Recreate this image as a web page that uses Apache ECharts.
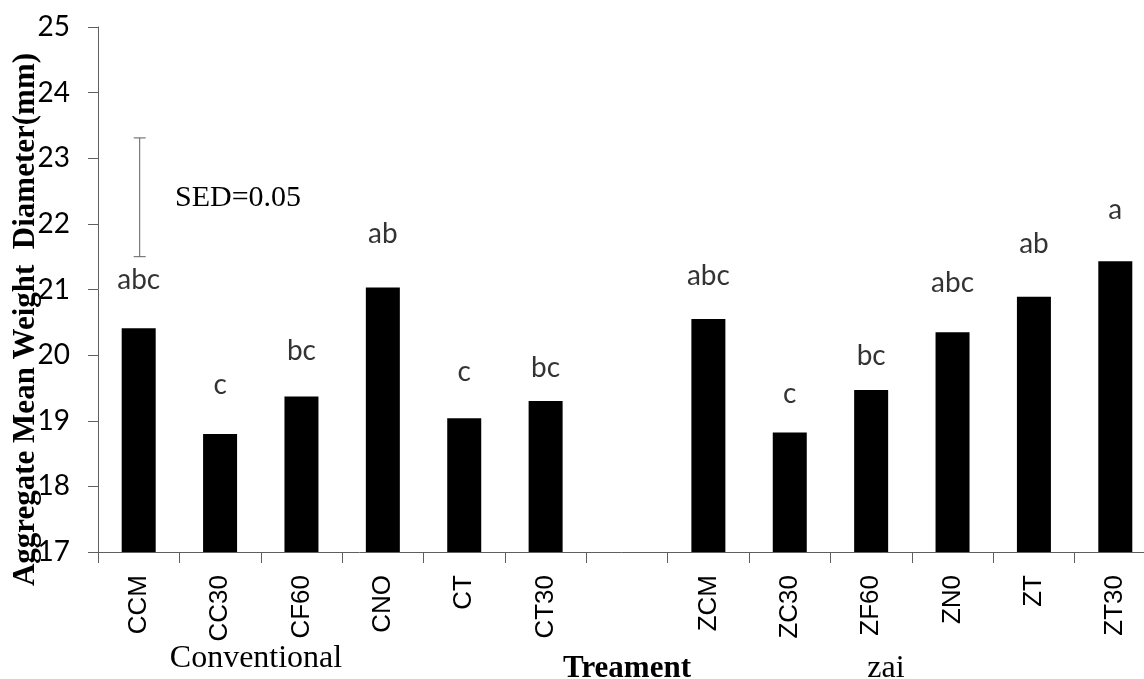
<!DOCTYPE html>
<html>
<head>
<meta charset="utf-8">
<script src="https://cdn.jsdelivr.net/npm/echarts@6/dist/echarts.min.js"></script>
<style>
html,body{margin:0;padding:0;background:#fff;}
#chart{width:1144px;height:679px;}
</style>
</head>
<body>
<div id="chart"></div>
<script>
// ---- data ----
const categories = ['CCM','CC30','CF60','CNO','CT','CT30','','ZCM','ZC30','ZF60','ZN0','ZT','ZT30'];
const mwdValues = [20.41, 18.80, 19.37, 21.03, 19.04, 19.30, null, 20.55, 18.82, 19.47, 20.35, 20.89, 21.43];
const letters = ['abc','c','bc','ab','c','bc','','abc','c','bc','abc','ab','a'];
const letterLevels = [21.14, 19.55, 20.06, 21.84, 19.75, 19.81, null, 21.20, 19.41, 19.99, 21.10, 21.69, 22.21];
const sedLow = 21.50;
const sedHigh = 23.31;
const yTicks = {min: 17, max: 25, step: 1};
const groupNames = ['Conventional', 'zai'];

// ---- chart ----
const chart = echarts.init(document.getElementById('chart'), null, {renderer: 'canvas'});
const axisColor = '#5f5f5f';

const letterData = [];
letterLevels.forEach((v, i) => { if (v !== null) letterData.push([i, v, letters[i]]); });

chart.setOption({
  animation: false,
  backgroundColor: '#ffffff',
  grid: {left: 98, top: 27, width: 1058, height: 525, containLabel: false, outerBoundsMode: 'none'},
  xAxis: {
    type: 'category',
    data: categories,
    boundaryGap: true,
    name: 'Treament',
    nameLocation: 'middle',
    nameGap: 101,
    nameMoveOverlap: false,
    nameTextStyle: {fontFamily: 'Liberation Serif', fontWeight: 'bold', fontSize: 31, color: '#000', verticalAlign: 'top'},
    axisLine: {lineStyle: {color: axisColor, width: 1}},
    axisTick: {show: true, length: 11, inside: false, alignWithLabel: false, lineStyle: {color: axisColor}},
    axisLabel: {interval: 0, rotate: 90, margin: 23, fontFamily: 'Liberation Sans', fontSize: 26, color: '#000'},
    splitLine: {show: false}
  },
  yAxis: {
    type: 'value',
    min: yTicks.min, max: yTicks.max, interval: yTicks.step,
    name: 'Aggregate Mean Weight  Diameter(mm)',
    nameLocation: 'middle',
    nameRotate: 90,
    nameGap: 57,
    nameMoveOverlap: false,
    nameTextStyle: {fontFamily: 'Liberation Serif', fontWeight: 'bold', fontSize: 31, color: '#000', padding: [0, 60, 0, 0]},
    axisLine: {show: true, lineStyle: {color: axisColor, width: 1}},
    axisTick: {show: true, length: 10, inside: false, lineStyle: {color: axisColor}},
    axisLabel: {margin: 28, fontFamily: 'Lato', fontSize: 28, color: '#000'},
    splitLine: {show: false}
  },
  series: [
    {
      type: 'bar',
      data: mwdValues,
      barWidth: 34,
      itemStyle: {color: '#000000'},
      z: 2
    },
    {
      type: 'scatter',
      data: letterData,
      symbolSize: 1,
      itemStyle: {color: 'rgba(0,0,0,0)'},
      label: {
        show: true,
        position: 'inside',
        formatter: p => p.data[2],
        fontFamily: 'Lato',
        fontSize: 28,
        color: '#000'
      },
      z: 3
    },
    {
      type: 'custom',
      data: [[0, sedLow, sedHigh]],
      renderItem: function (params, api) {
        const lo = api.coord([api.value(0), api.value(1)]);
        const hi = api.coord([api.value(0), api.value(2)]);
        const x = lo[0] + 1;
        const st = {stroke: axisColor, lineWidth: 1};
        return {
          type: 'group',
          children: [
            {type: 'line', shape: {x1: x, y1: lo[1], x2: x, y2: hi[1]}, style: st},
            {type: 'line', shape: {x1: x - 6, y1: lo[1], x2: x + 6, y2: lo[1]}, style: st},
            {type: 'line', shape: {x1: x - 6, y1: hi[1], x2: x + 6, y2: hi[1]}, style: st}
          ]
        };
      },
      z: 4
    }
  ],
  graphic: [
    {type: 'text', left: 175, top: 183, style: {text: 'SED=0.05', font: '30px "Liberation Serif"', fill: '#000'}},
    {type: 'text', x: 256, y: 659, style: {text: groupNames[0], font: '32px "Liberation Serif"', fill: '#000', textAlign: 'center', textVerticalAlign: 'middle'}},
    {type: 'text', x: 886, y: 669, style: {text: groupNames[1], font: '32px "Liberation Serif"', fill: '#000', textAlign: 'center', textVerticalAlign: 'middle'}}
  ]
});
</script>
</body>
</html>
